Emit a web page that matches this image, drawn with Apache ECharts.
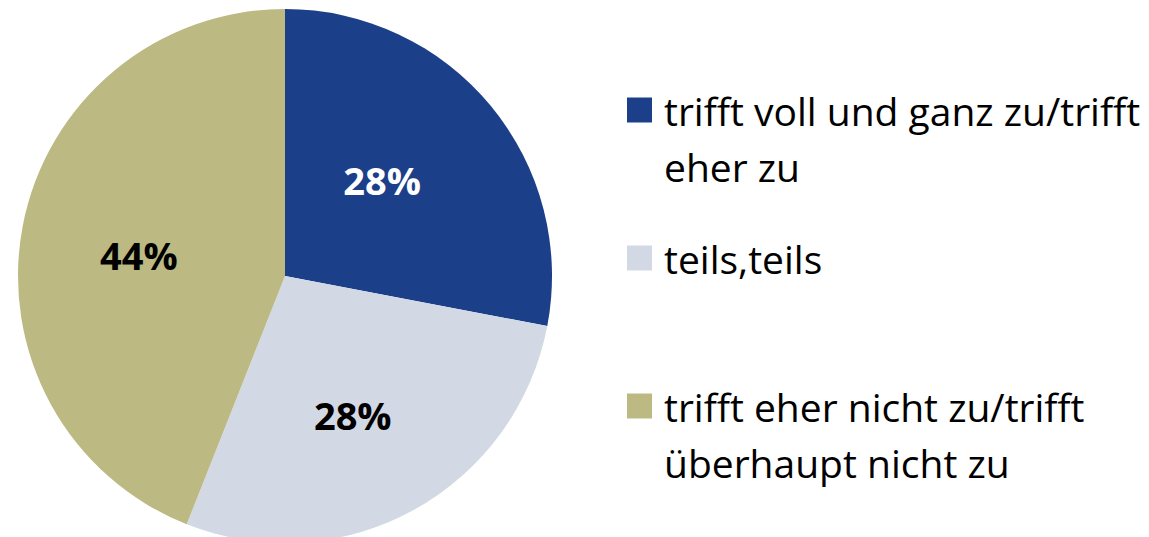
<!DOCTYPE html>
<html>
<head>
<meta charset="utf-8">
<script src="https://cdn.jsdelivr.net/npm/echarts@6/dist/echarts.min.js"></script>
<style>
  html, body { margin: 0; padding: 0; background: #fff; }
  #chart { width: 1149px; height: 537px; }
</style>
</head>
<body>
<div id="chart"></div>
<script>
var categories = [
  'trifft voll und ganz zu/trifft eher zu',
  'teils,teils',
  'trifft eher nicht zu/trifft überhaupt nicht zu'
];
var shares = [28, 28, 44];
// legend text as it wraps in the original
var legendLines = [
  ['trifft voll und ganz zu/trifft', 'eher zu'],
  ['teils,teils', ''],
  ['trifft eher nicht zu/trifft', 'überhaupt nicht zu']
];

(function () {
  var colors = ['#1b3f88', '#d2d9e4', '#bcb982'];
  var labelColors = ['#ffffff', '#000000', '#000000'];
  var labelOffsets = [[-8, -9], [2, 19], [-12, 5]];
  var font = '"Open Sans", "DejaVu Sans", sans-serif';
  var legendTops = [26, 174, 322];

  var chart = echarts.init(document.getElementById('chart'), null, { renderer: 'svg' });

  var legends = categories.map(function (name, i) {
    return {
      data: [name],
      orient: 'vertical',
      left: 627,
      top: legendTops[i],
      padding: 0,
      itemWidth: 25,
      itemHeight: 25,
      icon: 'rect',
      selectedMode: false,
      formatter: function () {
        // blank first line keeps the marker level with the first text line
        return '\n' + legendLines[i].join('\n');
      },
      textStyle: {
        fontFamily: font,
        fontSize: 39,
        lineHeight: 56,
        color: '#000',
        padding: [0, 0, 0, 7]
      }
    };
  });

  chart.setOption({
    animation: false,
    legend: legends,
    series: [
      {
        type: 'pie',
        center: [285, 276],
        radius: 267,
        startAngle: 90,
        clockwise: true,
        silent: true,
        label: {
          show: true,
          position: 'inside',
          formatter: '{c}%',
          fontFamily: font,
          fontWeight: 'bold',
          fontSize: 38
        },
        labelLine: { show: false },
        data: categories.map(function (name, i) {
          return {
            name: name,
            value: shares[i],
            itemStyle: { color: colors[i] },
            label: { color: labelColors[i], offset: labelOffsets[i] }
          };
        })
      }
    ]
  });
})();
</script>
</body>
</html>
